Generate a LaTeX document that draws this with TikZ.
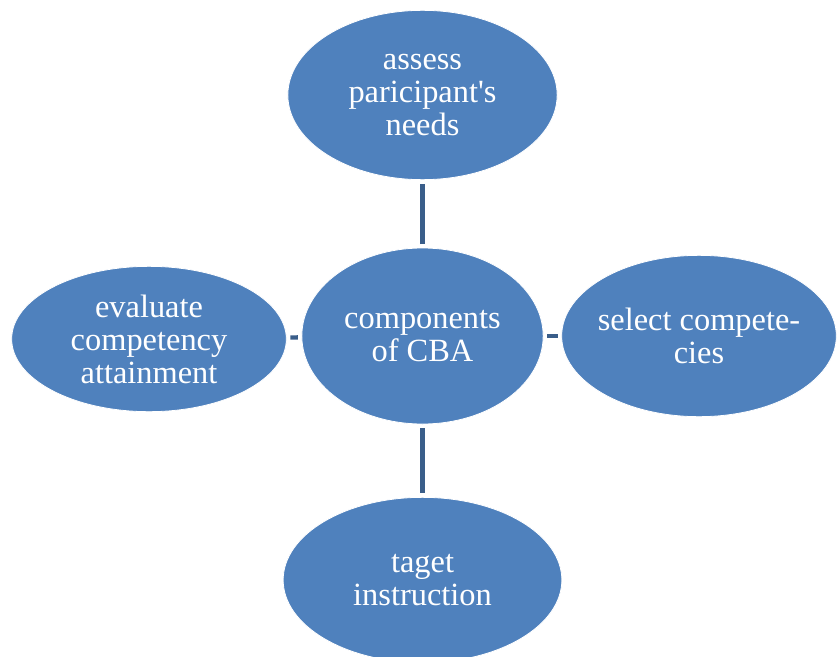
\documentclass[tikz,border=0pt]{standalone}
\usepackage{fontspec}
\setmainfont{Liberation Serif}
\usetikzlibrary{shapes.geometric}

\definecolor{cbafill}{RGB}{79,129,189}
\definecolor{cbaline}{RGB}{58,94,138}

\begin{document}
\begin{tikzpicture}[
  x=0.75pt,
  y=-0.75pt,
  every node/.style={inner sep=0pt, outer sep=0pt},
  bubble/.style={ellipse, fill=cbafill, draw=white, line width=0.6pt, text=white,
    inner xsep=-10pt, align=center, font=\fontsize{24.3}{24.8}\selectfont},
  link/.style={draw=cbaline, line width=3.2pt, shorten >=3pt, shorten <=3pt}
]

  \path[use as bounding box] (0,0) rectangle (837,656);

  % Centre and the four components
  \node[bubble, minimum width=181pt, minimum height=132pt] (hub) at (422.5,336) {components\\of CBA};
  \node[bubble, minimum width=202pt, minimum height=127pt] (assess) at (422.5,95) {assess\\paricipant\textquotesingle s\\needs};
  \node[bubble, minimum width=206pt, minimum height=121pt] (select) at (699,336) {select compete-\\cies};
  \node[bubble, minimum width=209pt, minimum height=124pt] (instr) at (422.5,580) {taget\\instruction};
  \node[bubble, minimum width=206pt, minimum height=109pt] (evaluate) at (149,339) {evaluate\\competency\\attainment};

  % Links
  \draw[link] (hub) -- (assess);
  \draw[link] (hub) -- (select);
  \draw[link] (hub) -- (instr);
  \draw[link] (hub) -- (evaluate);

\end{tikzpicture}
\end{document}
